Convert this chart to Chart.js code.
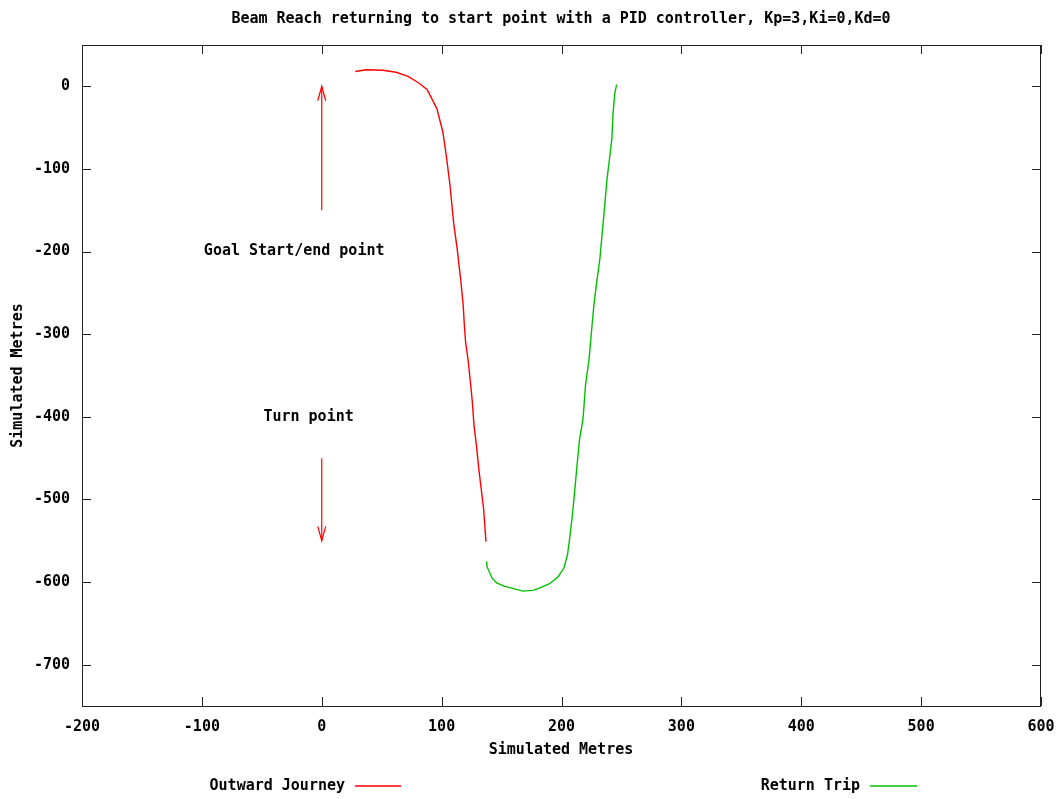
<!DOCTYPE html>
<html>
<head>
<meta charset="utf-8">
<script src="https://cdn.jsdelivr.net/npm/chart.js@4"></script>
<style>
  html, body { margin: 0; padding: 0; background: #fff; }
  #wrap { width: 1062px; height: 799px; }
</style>
</head>
<body>
<div id="wrap"><canvas id="trip"></canvas></div>
<script>
// outward journey (red)
var outwardX = [28, 37, 51, 62, 72, 81, 88, 96, 101, 104, 107, 110, 113, 116, 118, 119, 120, 122, 124, 125.5, 127, 129, 131, 133, 135, 137];
var outwardY = [18, 20, 19.5, 17, 12, 4, -4, -27, -55, -85, -120, -165, -197, -235, -265, -290, -310, -330, -358, -380, -410, -434, -463, -487, -511, -551];
// return trip (green)
var returnX = [137.5, 138, 142, 146, 152, 160, 168, 176, 182, 190, 197, 202, 205, 207, 209, 211, 213, 215, 218, 220, 223, 225, 227, 229, 232, 234, 236, 238, 240, 242, 243, 244.5, 246];
var returnY = [-575, -582, -595, -601, -605, -608, -611, -610, -607, -602, -594, -583, -567, -545, -520, -490, -458, -428, -402, -362, -330, -297, -265, -241, -209, -177, -145, -112, -88, -64, -32, -8, 2];
// annotation arrows
var arrowX = [0, 0];
var goalArrowY = [-150, 0];
var turnArrowY = [-450, -550];
var labelTexts = ['Goal Start/end point', 'Turn point'];
var labelX = [-23, -11];
var labelY = [-200, -400];

var xTicks = [-200, -100, 0, 100, 200, 300, 400, 500, 600];
var yTicks = [-700, -600, -500, -400, -300, -200, -100, 0];

function pts(xs, ys) {
    return xs.map(function (x, i) { return { x: x, y: ys[i] }; });
}

var FONT = 'bold 15px "DejaVu Sans Mono", monospace';
var RED = 'rgb(255,0,0)';
var GREEN = 'rgb(0,192,0)';

var gnuplotLook = {
    id: 'gnuplotLook',
    afterDatasetsDraw: function (chart) {
        var c = chart.ctx, a = chart.chartArea;
        var xs = chart.scales.x, ys = chart.scales.y;
        c.save();
        // frame
        c.strokeStyle = '#222';
        c.lineWidth = 1;
        c.strokeRect(a.left + 0.5, a.top + 0.5, a.right - a.left - 1, a.bottom - a.top);
        // inward ticks on all four sides
        c.beginPath();
        xTicks.forEach(function (v) {
            var px = Math.round(xs.getPixelForValue(v)) + 0.5;
            c.moveTo(px, a.bottom); c.lineTo(px, a.bottom - 9);
            c.moveTo(px, a.top); c.lineTo(px, a.top + 9);
        });
        yTicks.forEach(function (v) {
            var py = Math.round(ys.getPixelForValue(v)) + 0.5;
            c.moveTo(a.left, py); c.lineTo(a.left + 9, py);
            c.moveTo(a.right, py); c.lineTo(a.right - 9, py);
        });
        c.stroke();

        // arrowheads
        c.strokeStyle = RED;
        c.lineWidth = 1.2;
        [goalArrowY, turnArrowY].forEach(function (ay) {
            var tx = xs.getPixelForValue(arrowX[1]), ty = ys.getPixelForValue(ay[1]);
            var fx = xs.getPixelForValue(arrowX[0]), fy = ys.getPixelForValue(ay[0]);
            var ang = Math.atan2(ty - fy, tx - fx);
            var len = 15, spread = 0.27;
            c.beginPath();
            c.moveTo(tx - len * Math.cos(ang - spread), ty - len * Math.sin(ang - spread));
            c.lineTo(tx, ty);
            c.lineTo(tx - len * Math.cos(ang + spread), ty - len * Math.sin(ang + spread));
            c.stroke();
        });

        // text
        c.fillStyle = '#000';
        c.font = FONT;
        c.textBaseline = 'middle';
        c.textAlign = 'center';
        c.fillText('Beam Reach returning to start point with a PID controller, Kp=3,Ki=0,Kd=0', 561, 19);
        xTicks.forEach(function (v) {
            c.fillText(String(v), xs.getPixelForValue(v), 727);
        });
        c.fillText('Simulated Metres', 561, 750);
        labelTexts.forEach(function (t, i) {
            c.fillText(t, xs.getPixelForValue(labelX[i]), ys.getPixelForValue(labelY[i]));
        });
        c.textAlign = 'right';
        yTicks.forEach(function (v) {
            c.fillText(String(v), 70, ys.getPixelForValue(v));
        });
        c.save();
        c.translate(18, (a.top + a.bottom) / 2);
        c.rotate(-Math.PI / 2);
        c.textAlign = 'center';
        c.fillText('Simulated Metres', 0, 0);
        c.restore();

        // legend, gnuplot style: text then sample line
        c.textAlign = 'right';
        c.fillText('Outward Journey', 345, 786);
        c.fillText('Return Trip', 860, 786);
        c.lineWidth = 1.5;
        c.strokeStyle = RED;
        c.beginPath(); c.moveTo(355, 786); c.lineTo(401, 786); c.stroke();
        c.strokeStyle = GREEN;
        c.beginPath(); c.moveTo(870, 786); c.lineTo(917, 786); c.stroke();
        c.restore();
    }
};

var ctx = document.getElementById('trip').getContext('2d');
var chart = new Chart(ctx, {
    type: 'scatter',
    data: {
        datasets: [
            { label: 'Outward Journey', data: pts(outwardX, outwardY), borderColor: RED, borderWidth: 1.4, showLine: true, pointRadius: 0 },
            { label: 'Return Trip', data: pts(returnX, returnY), borderColor: GREEN, borderWidth: 1.4, showLine: true, pointRadius: 0 },
            { label: 'goal arrow', data: pts(arrowX, goalArrowY), borderColor: RED, borderWidth: 1.2, showLine: true, pointRadius: 0 },
            { label: 'turn arrow', data: pts(arrowX, turnArrowY), borderColor: RED, borderWidth: 1.2, showLine: true, pointRadius: 0 }
        ]
    },
    options: {
        responsive: true,
        maintainAspectRatio: false,
        animation: false,
        layout: { padding: { left: 82, right: 21, top: 45, bottom: 93 } },
        plugins: { legend: { display: false }, tooltip: { enabled: false } },
        scales: {
            x: {
                type: 'linear', min: -200, max: 600,
                ticks: { display: false },
                grid: { display: false },
                border: { display: false },
                afterFit: function (s) { s.height = 0; }
            },
            y: {
                type: 'linear', min: -750, max: 50,
                ticks: { display: false },
                grid: { display: false },
                border: { display: false },
                afterFit: function (s) { s.width = 0; }
            }
        }
    },
    plugins: [gnuplotLook]
});
</script>
</body>
</html>
